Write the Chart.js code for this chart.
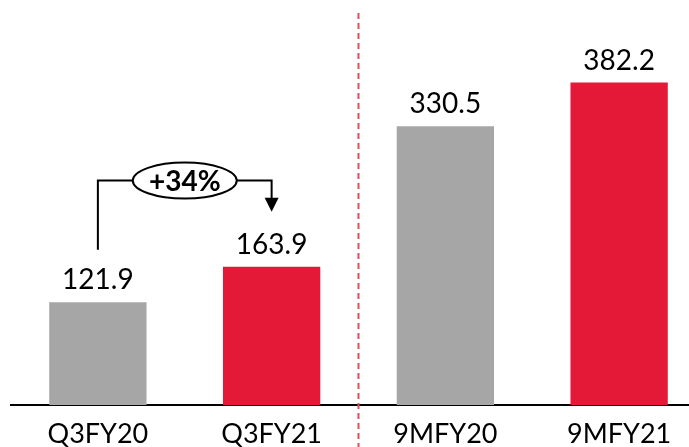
<!DOCTYPE html>
<html>
<head>
<meta charset="utf-8">
<script src="https://cdn.jsdelivr.net/npm/chart.js@4/dist/chart.umd.min.js"></script>
<style>
  html, body { margin: 0; padding: 0; background: #fff; overflow: hidden; }
  #wrap { width: 706px; height: 447px; }
</style>
</head>
<body>
<div id="wrap"><canvas id="grafico" width="706" height="447"></canvas></div>
<script>
const categorias = ["Q3FY20", "Q3FY21", "9MFY20", "9MFY21"];
const valores = [121.9, 163.9, 330.5, 382.2];
const cores = ["#a6a6a6", "#e31937", "#a6a6a6", "#e31937"];
const crescimento = "+34%";

const fonte = "Lato, 'Open Sans', sans-serif";

const rotulosValor = {
  id: "rotulosValor",
  afterDatasetsDraw(chart) {
    const ctx = chart.ctx;
    const meta = chart.getDatasetMeta(0);
    ctx.save();
    ctx.font = "28px " + fonte;
    ctx.fillStyle = "#000";
    ctx.textAlign = "center";
    ctx.textBaseline = "bottom";
    meta.data.forEach((barra, i) => {
      ctx.fillText(valores[i].toFixed(1), barra.x, barra.y - 8);
    });
    ctx.restore();
  }
};

const separador = {
  id: "separador",
  afterDraw(chart) {
    const ctx = chart.ctx;
    const x = chart.scales.x;
    const px = (x.getPixelForValue(1) + x.getPixelForValue(2)) / 2;
    ctx.save();
    ctx.strokeStyle = "#e0505a";
    ctx.lineWidth = 2;
    ctx.setLineDash([6, 4]);
    ctx.beginPath();
    ctx.moveTo(px, 13);
    ctx.lineTo(px, chart.height);
    ctx.stroke();
    ctx.restore();
  }
};

const seta = {
  id: "seta",
  afterDraw(chart) {
    const ctx = chart.ctx;
    const x = chart.scales.x;
    const y = chart.scales.y;
    const x1 = x.getPixelForValue(0);
    const x2 = x.getPixelForValue(1);
    const yTopo = y.getPixelForValue(266);
    const yIni = y.getPixelForValue(184);
    const yPonta = y.getPixelForValue(229);
    const cx = (x1 + x2) / 2;
    const rx = 52, ry = 18;
    ctx.save();
    ctx.strokeStyle = "#000";
    ctx.lineWidth = 2;
    ctx.beginPath();
    ctx.moveTo(x1, yIni);
    ctx.lineTo(x1, yTopo);
    ctx.lineTo(cx - rx, yTopo);
    ctx.moveTo(cx + rx, yTopo);
    ctx.lineTo(x2, yTopo);
    ctx.lineTo(x2, yPonta - 12);
    ctx.stroke();
    ctx.fillStyle = "#000";
    ctx.beginPath();
    ctx.moveTo(x2 - 7, yPonta - 14);
    ctx.lineTo(x2 + 7, yPonta - 14);
    ctx.lineTo(x2, yPonta);
    ctx.closePath();
    ctx.fill();
    ctx.beginPath();
    ctx.ellipse(cx, yTopo, rx, ry, 0, 0, Math.PI * 2);
    ctx.fillStyle = "#fff";
    ctx.fill();
    ctx.stroke();
    ctx.fillStyle = "#000";
    ctx.font = "bold 28px " + fonte;
    ctx.textAlign = "center";
    ctx.textBaseline = "middle";
    ctx.fillText(crescimento, cx, yTopo + 1);
    ctx.restore();
  }
};

new Chart(document.getElementById("grafico"), {
  type: "bar",
  data: {
    labels: categorias,
    datasets: [{
      data: valores,
      backgroundColor: cores,
      barPercentage: 0.56,
      categoryPercentage: 1
    }]
  },
  options: {
    responsive: false,
    animation: false,
    layout: { padding: { left: 11, right: 0, top: 0, bottom: -17 } },
    plugins: { legend: { display: false }, tooltip: { enabled: false } },
    scales: {
      x: {
        grid: { display: false, drawTicks: false },
        border: { color: "#000", width: 2 },
        ticks: { color: "#000", font: { family: fonte, size: 27, lineHeight: 1 }, padding: 16 }
      },
      y: { display: false, min: 0, max: 480 }
    }
  },
  plugins: [rotulosValor, separador, seta]
});
</script>
</body>
</html>
